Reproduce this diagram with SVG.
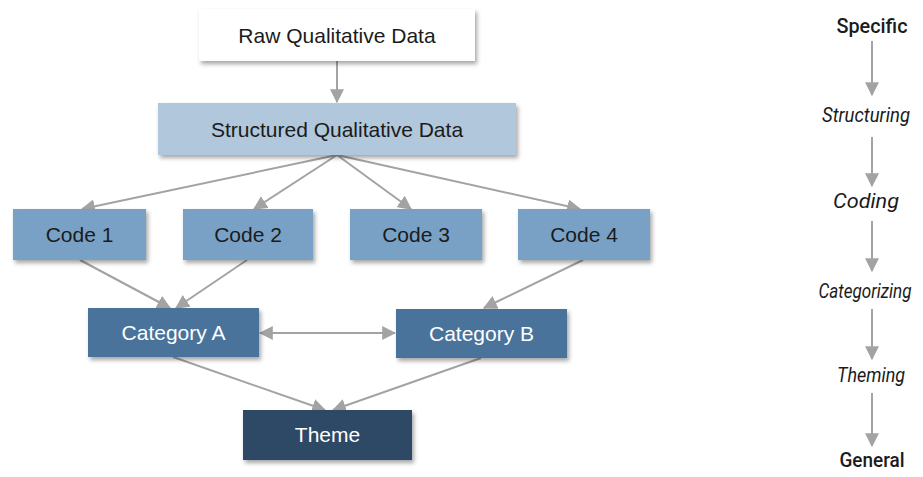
<svg xmlns="http://www.w3.org/2000/svg" width="923" height="477" viewBox="0 0 923 477">
  <style>
    .lbl { font-family: "Liberation Sans", Arial, sans-serif; font-size: 21px; text-anchor: middle; }
    .dark { fill: #1b1b1b; }
    .light { fill: #ffffff; }
    .edge { stroke: #a3a3a3; stroke-width: 2; fill: none; }
    .step { font-family: Roboto, "Liberation Sans", sans-serif; font-size: 21px; text-anchor: middle; fill: #1b1b1b; }
    .it { font-style: italic; }
    .bd { font-weight: 500; }
  </style>
  <defs>
    <filter id="shadow" x="-10%" y="-20%" width="125%" height="150%">
      <feDropShadow dx="2" dy="3" stdDeviation="2" flood-color="#000" flood-opacity="0.35"/>
    </filter>
    <marker id="arrow" viewBox="0 0 12 12" refX="11" refY="6" markerWidth="7" markerHeight="7" markerUnits="strokeWidth" orient="auto-start-reverse">
      <path d="M0,0 L12,6 L0,12 Z" fill="#a3a3a3"/>
    </marker>
  </defs>

  <rect width="923" height="477" fill="#ffffff"/>

  <!-- connectors -->
  <g id="connectors" class="edge" marker-end="url(#arrow)">
    <line x1="337" y1="61" x2="337" y2="102"/>
    <line x1="337" y1="155" x2="82" y2="209"/>
    <line x1="337" y1="155" x2="254" y2="209"/>
    <line x1="337" y1="155" x2="411" y2="209"/>
    <line x1="337" y1="155" x2="580" y2="209"/>
    <line x1="80" y1="260" x2="170" y2="308"/>
    <line x1="247" y1="260" x2="176" y2="308"/>
    <line x1="583" y1="260" x2="484" y2="308"/>
    <line x1="260" y1="333" x2="395" y2="333" marker-start="url(#arrow)"/>
    <line x1="173" y1="357" x2="325" y2="410"/>
    <line x1="481" y1="358" x2="333" y2="410"/>
  </g>

  <!-- nodes -->
  <g id="raw">
    <rect x="199" y="9" width="276" height="52" fill="#ffffff" filter="url(#shadow)"/>
    <text class="lbl dark" x="337" y="43">Raw Qualitative Data</text>
  </g>
  <g id="structured">
    <rect x="158" y="103" width="358" height="52" fill="#b0c7dc" filter="url(#shadow)"/>
    <text class="lbl dark" x="337" y="137">Structured Qualitative Data</text>
  </g>
  <g id="code1">
    <rect x="13" y="209" width="133" height="51" fill="#79a1c5" filter="url(#shadow)"/>
    <text class="lbl dark" x="79.5" y="242">Code 1</text>
  </g>
  <g id="code2">
    <rect x="183" y="209" width="130" height="51" fill="#79a1c5" filter="url(#shadow)"/>
    <text class="lbl dark" x="248" y="242">Code 2</text>
  </g>
  <g id="code3">
    <rect x="350" y="209" width="132" height="51" fill="#79a1c5" filter="url(#shadow)"/>
    <text class="lbl dark" x="416" y="242">Code 3</text>
  </g>
  <g id="code4">
    <rect x="518" y="209" width="132" height="51" fill="#79a1c5" filter="url(#shadow)"/>
    <text class="lbl dark" x="584" y="242">Code 4</text>
  </g>
  <g id="categoryA">
    <rect x="88" y="308" width="171" height="49" fill="#4a739b" filter="url(#shadow)"/>
    <text class="lbl light" x="173.5" y="340">Category A</text>
  </g>
  <g id="categoryB">
    <rect x="396" y="309" width="171" height="49" fill="#4a739b" filter="url(#shadow)"/>
    <text class="lbl light" x="481.5" y="341">Category B</text>
  </g>
  <g id="theme">
    <rect x="243" y="410" width="169" height="50" fill="#2f4a66" filter="url(#shadow)"/>
    <text class="lbl light" x="327.5" y="442">Theme</text>
  </g>

  <!-- specific-to-general scale -->
  <g id="scale-arrows" class="edge" marker-end="url(#arrow)">
    <line x1="872" y1="41" x2="872" y2="95"/>
    <line x1="872" y1="137" x2="872" y2="186"/>
    <line x1="872" y1="221" x2="872" y2="271"/>
    <line x1="872" y1="309" x2="872" y2="359"/>
    <line x1="872" y1="393" x2="872" y2="446"/>
  </g>
  <!-- condensed labels: narrowed horizontally -->
  <g id="scale-labels">
    <text class="step bd" transform="translate(872,33) scale(0.82,1)" textLength="86.6" lengthAdjust="spacingAndGlyphs">Specific</text>
    <text class="step it" transform="translate(866,122) scale(0.82,1)" textLength="107.3" lengthAdjust="spacingAndGlyphs">Structuring</text>
    <text class="step it" transform="translate(866,208) scale(0.82,1)" textLength="80.5" lengthAdjust="spacingAndGlyphs">Coding</text>
    <text class="step it" transform="translate(865,298) scale(0.82,1)" textLength="113.4" lengthAdjust="spacingAndGlyphs">Categorizing</text>
    <text class="step it" transform="translate(871,382) scale(0.82,1)" textLength="82.9" lengthAdjust="spacingAndGlyphs">Theming</text>
    <text class="step bd" transform="translate(872,467) scale(0.82,1)" textLength="79.3" lengthAdjust="spacingAndGlyphs">General</text>
  </g>
</svg>
